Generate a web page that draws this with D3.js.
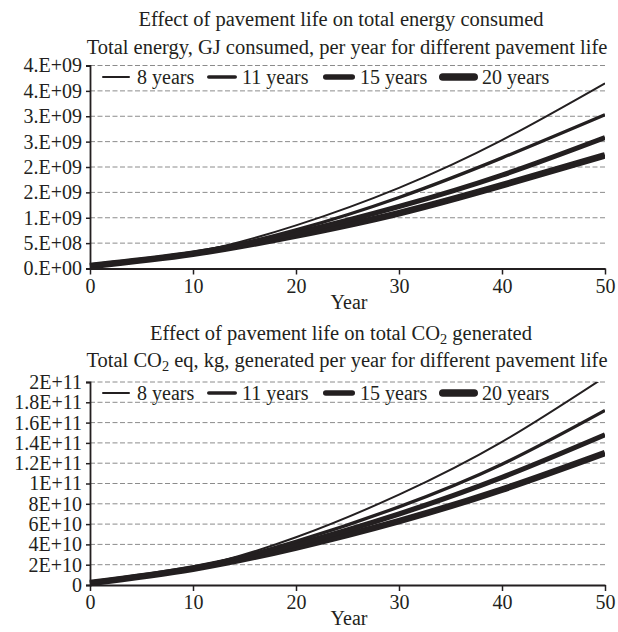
<!DOCTYPE html>
<html>
<head>
<meta charset="utf-8">
<script src="https://cdn.jsdelivr.net/npm/d3@7"></script>
<style>
  html, body { margin: 0; padding: 0; background: #fff; }
  svg { display: block; }
  text { font-family: "Liberation Serif", "Times New Roman", serif; fill: #231f20; }
</style>
</head>
<body>
<svg id="chart" width="618" height="632"></svg>
<script>
// ---------- data ----------
const years = [0, 10, 20, 30, 40, 50];
const seriesNames = ["8 years", "11 years", "15 years", "20 years"];

// Total energy, GJ
const energy8  = [0.05e9, 0.31e9, 0.85e9, 1.59e9, 2.53e9, 3.65e9];
const energy11 = [0.05e9, 0.30e9, 0.76e9, 1.40e9, 2.18e9, 3.03e9];
const energy15 = [0.05e9, 0.30e9, 0.70e9, 1.22e9, 1.84e9, 2.58e9];
const energy20 = [0.05e9, 0.29e9, 0.65e9, 1.09e9, 1.64e9, 2.23e9];

// Total CO2 eq, kg
const co2_8  = [0.02e11, 0.17e11, 0.47e11, 0.89e11, 1.41e11, 2.05e11];
const co2_11 = [0.02e11, 0.17e11, 0.43e11, 0.77e11, 1.19e11, 1.72e11];
const co2_15 = [0.02e11, 0.17e11, 0.40e11, 0.70e11, 1.06e11, 1.48e11];
const co2_20 = [0.02e11, 0.16e11, 0.37e11, 0.63e11, 0.94e11, 1.30e11];

const xTicks = [0, 10, 20, 30, 40, 50];
const energyTickValues = [0, 5e8, 1e9, 1.5e9, 2e9, 2.5e9, 3e9, 3.5e9, 4e9];
const energyTickLabels = ["0.E+00","5.E+08","1.E+09","2.E+09","2.E+09","3.E+09","3.E+09","4.E+09","4.E+09"];
const co2TickValues = [0, 2e10, 4e10, 6e10, 8e10, 1e11, 1.2e11, 1.4e11, 1.6e11, 1.8e11, 2e11];
const co2TickLabels = ["0","2E+10","4E+10","6E+10","8E+10","1E+11","1.2E+11","1.4E+11","1.6E+11","1.8E+11","2E+11"];

// ---------- styles ----------
const lineWidths = [2, 3.3, 5.2, 6.6];
const legendWidths = [2, 3.6, 5.6, 7.6];
const ink = "#231f20";
const FS = 20;
const TFS = 20.5;

const svg = d3.select("#chart");

function drawPanel(cfg) {
  const g = svg.append("g");
  const x = d3.scaleLinear().domain([0, 50]).range([90, 605]);
  const y = d3.scaleLinear().domain([0, cfg.yMax]).range([cfg.yBottom, cfg.yTop]);

  // titles
  const t1 = g.append("text").attr("x", 341).attr("y", cfg.title1Y)
    .attr("text-anchor", "middle").style("font-size", TFS + "px");
  cfg.title1.forEach(p => {
    const ts = t1.append("tspan").text(p.t);
    if (p.sub) ts.attr("baseline-shift", "-25%").style("font-size", (TFS * 0.7) + "px");
  });
  const t2 = g.append("text").attr("x", 347).attr("y", cfg.title2Y)
    .attr("text-anchor", "middle").style("font-size", TFS + "px");
  cfg.title2.forEach(p => {
    const ts = t2.append("tspan").text(p.t);
    if (p.sub) ts.attr("baseline-shift", "-25%").style("font-size", (TFS * 0.7) + "px");
  });

  // gridlines
  g.append("g").selectAll("line").data(cfg.tickValues.filter(v => v > 0)).join("line")
    .attr("x1", x(0)).attr("x2", x(50))
    .attr("y1", d => y(d)).attr("y2", d => y(d))
    .attr("stroke", "#8c8c8c").attr("stroke-width", 1)
    .attr("stroke-dasharray", "5,2.5");

  // lines
  const clipId = "clip" + cfg.id;
  svg.append("clipPath").attr("id", clipId).append("rect")
    .attr("x", x(0) - 5).attr("y", cfg.yTop).attr("width", x(50) - x(0) + 5)
    .attr("height", cfg.yBottom - cfg.yTop + 10);
  const line = d3.line().x((d, i) => x(years[i])).y(d => y(d)).curve(d3.curveNatural);
  const lg = g.append("g").attr("clip-path", `url(#${clipId})`);
  cfg.series.slice().reverse().forEach((s, ri) => {
    const i = cfg.series.length - 1 - ri;
    lg.append("path").attr("d", line(s)).attr("fill", "none")
      .attr("stroke", ink).attr("stroke-width", lineWidths[i]).attr("stroke-linecap", "butt");
  });

  // axes
  const yAxis = d3.axisLeft(y).tickValues(cfg.tickValues)
    .tickFormat((d, i) => cfg.tickLabels[i]).tickSize(4).tickPadding(4);
  const ya = g.append("g").attr("transform", `translate(${x(0)},0)`).call(yAxis);
  ya.select(".domain").attr("stroke", ink).attr("stroke-width", 1.8);
  ya.selectAll(".tick line").attr("stroke", ink).attr("stroke-width", 1.5);
  ya.selectAll(".tick text").style("font-size", FS + "px").attr("fill", ink)
    .style("font-family", '"Liberation Serif", serif');

  const xAxis = d3.axisBottom(x).tickValues(xTicks).tickSize(6).tickPadding(4).tickSizeOuter(0);
  const xa = g.append("g").attr("transform", `translate(0,${cfg.yBottom})`).call(xAxis);
  xa.select(".domain").attr("stroke", ink).attr("stroke-width", 1.8);
  xa.selectAll(".tick line").attr("stroke", ink).attr("stroke-width", 1.5);
  xa.selectAll(".tick text").style("font-size", FS + "px").attr("fill", ink)
    .style("font-family", '"Liberation Serif", serif');

  g.append("text").attr("x", 349).attr("y", cfg.yBottom + 40)
    .attr("text-anchor", "middle").style("font-size", FS + "px").text("Year");

  // legend
  const legX = [[102, 130, 137], [207, 237, 242], [323, 355, 360], [439, 478, 482]];
  seriesNames.forEach((name, i) => {
    const w = legendWidths[i];
    const [a, b, tx] = legX[i];
    g.append("line").attr("x1", a + w / 2).attr("x2", b - w / 2)
      .attr("y1", cfg.legendY).attr("y2", cfg.legendY)
      .attr("stroke", ink).attr("stroke-width", w).attr("stroke-linecap", "round");
    g.append("text").attr("x", tx).attr("y", cfg.legendY).attr("dy", "0.33em")
      .style("font-size", FS + "px").text(name);
  });
}

drawPanel({
  id: "e",
  yMax: 4e9, yTop: 65.5, yBottom: 268.5,
  title1Y: 26, title2Y: 54, legendY: 77,
  title1: [{t: "Effect of pavement life on total energy consumed"}],
  title2: [{t: "Total energy, GJ consumed, per year for different pavement life"}],
  tickValues: energyTickValues, tickLabels: energyTickLabels,
  series: [energy8, energy11, energy15, energy20]
});

drawPanel({
  id: "c",
  yMax: 2e11, yTop: 382, yBottom: 585,
  title1Y: 340, title2Y: 367, legendY: 393,
  title1: [{t: "Effect of pavement life on total CO"}, {t: "2", sub: true}, {t: "  generated"}],
  title2: [{t: "Total CO"}, {t: "2", sub: true}, {t: " eq, kg, generated per year for different pavement life"}],
  tickValues: co2TickValues, tickLabels: co2TickLabels,
  series: [co2_8, co2_11, co2_15, co2_20]
});
</script>
</body>
</html>
